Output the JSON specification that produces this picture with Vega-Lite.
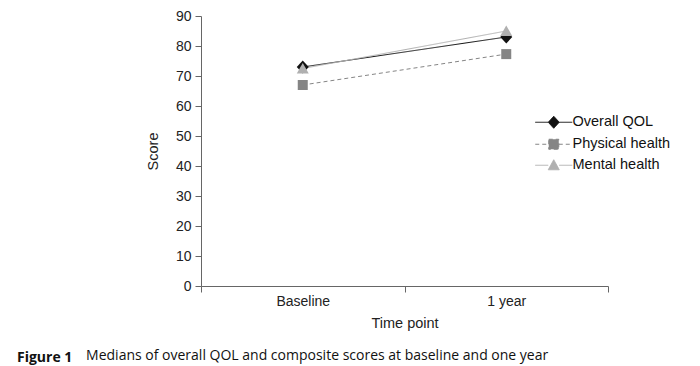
{
  "$schema": "https://vega.github.io/schema/vega-lite/v6.json",
  "width": 407,
  "height": 270,
  "autosize": "none",
  "padding": {"left": 201, "top": 16, "right": 92, "bottom": 80},
  "background": "white",
  "config": {
    "font": "Liberation Sans",
    "view": {"stroke": null},
    "axis": {
      "labelFont": "Liberation Sans",
      "titleFont": "Liberation Sans",
      "labelFontSize": 14,
      "titleFontSize": 14.5,
      "titleFontWeight": "normal",
      "labelColor": "#222",
      "titleColor": "#222",
      "domainColor": "#666",
      "tickColor": "#666",
      "tickSize": 6,
      "grid": false
    }
  },
  "title": {
    "text": "Figure 1",
    "subtitle": "\u200b\u00a0\u00a0\u00a0\u00a0\u00a0\u00a0\u00a0\u00a0\u00a0\u00a0\u00a0\u00a0\u00a0\u00a0\u00a0\u00a0\u00a0\u00a0\u00a0Medians of overall QOL and composite scores at baseline and one year",
    "orient": "bottom",
    "anchor": "start",
    "frame": "group",
    "dx": -184,
    "offset": 21,
    "font": "Open Sans",
    "fontSize": 14,
    "fontWeight": "bold",
    "color": "#111",
    "subtitleFont": "Open Sans",
    "subtitleFontSize": 14,
    "subtitleFontWeight": "normal",
    "subtitleColor": "#111",
    "subtitlePadding": -16
  },
  "data": {
    "values": [
      {"series": "Overall QOL", "marker": "overall", "time": "Baseline", "score": 73},
      {"series": "Overall QOL", "marker": "overall", "time": "1 year", "score": 83},
      {"series": "Physical health", "marker": "physical", "time": "Baseline", "score": 67},
      {"series": "Physical health", "marker": "physical", "time": "1 year", "score": 77.3},
      {"series": "Mental health", "marker": "mental", "time": "Baseline", "score": 72.5},
      {"series": "Mental health", "marker": "mental", "time": "1 year", "score": 85}
    ]
  },
  "encoding": {
    "x": {
      "field": "time",
      "type": "nominal",
      "sort": ["Baseline", "1 year"],
      "scale": {"type": "band", "paddingInner": 0, "paddingOuter": 0},
      "axis": {"title": "Time point", "labelAngle": 0, "tickBand": "extent", "labelPadding": 2, "titlePadding": 8}
    },
    "y": {
      "field": "score",
      "type": "quantitative",
      "scale": {"domain": [0, 90], "nice": false},
      "axis": {"title": "Score", "values": [0, 10, 20, 30, 40, 50, 60, 70, 80, 90], "labelPadding": 4, "titlePadding": 15}
    },
    "color": {
      "field": "series",
      "type": "nominal",
      "scale": {"domain": ["Overall QOL", "Physical health", "Mental health"], "range": ["#111111", "#858585", "#b0b0b0"]},
      "legend": {
        "title": null,
        "orient": "none",
        "legendX": 331,
        "legendY": 89,
        "direction": "vertical",
        "padding": 10,
        "rowPadding": 5,
        "labelFontSize": 14.5,
        "labelFont": "Liberation Sans",
        "labelColor": "#111",
        "symbolSize": 100,
        "symbolOffset": 4.5,
        "labelOffset": 11.5,
        "symbolStrokeWidth": 1,
        "encode": {
          "symbols": {
            "update": {
              "shape": {"signal": "datum.value === 'Overall QOL' ? 'M-3.7,0L-1.1,0M1.1,0L3.7,0M0,-1.2L1.1,0L0,1.2L-1.1,0Z' : datum.value === 'Physical health' ? 'M-3.7,0L-1,0M1,0L3.7,0M-1,-1L1,-1L1,1L-1,1Z' : 'M-3.7,0L-1.1,0M1.1,0L3.7,0M0,-1.1L1.1,0.9L-1.1,0.9Z'"},
              "fill": {"signal": "datum.value === 'Overall QOL' ? '#111111' : datum.value === 'Physical health' ? '#858585' : '#b0b0b0'"},
              "stroke": {"signal": "datum.value === 'Overall QOL' ? '#111111' : datum.value === 'Physical health' ? '#858585' : '#b0b0b0'"},
              "strokeWidth": {"value": 1},
              "size": {"value": 100},
              "opacity": {"value": 1}
            }
          }
        }
      }
    }
  },
  "layer": [
    {
      "mark": {"type": "line", "strokeWidth": 1},
      "encoding": {
        "strokeDash": {
          "field": "series",
          "type": "nominal",
          "scale": {"domain": ["Overall QOL", "Physical health", "Mental health"], "range": [[1, 0], [4, 3], [1, 0]]}
        }
      }
    },
    {
      "mark": {"type": "point", "filled": true, "size": 100, "opacity": 1},
      "encoding": {
        "shape": {
          "field": "marker",
          "type": "nominal",
          "scale": {"domain": ["overall", "physical", "mental"], "range": ["M0,-1.3L1.2,0L0,1.3L-1.2,0Z", "M-1,-1L1,-1L1,1L-1,1Z", "M0,-1.1L1.2,1L-1.2,1Z"]},
          "legend": null
        }
      }
    }
  ]
}
